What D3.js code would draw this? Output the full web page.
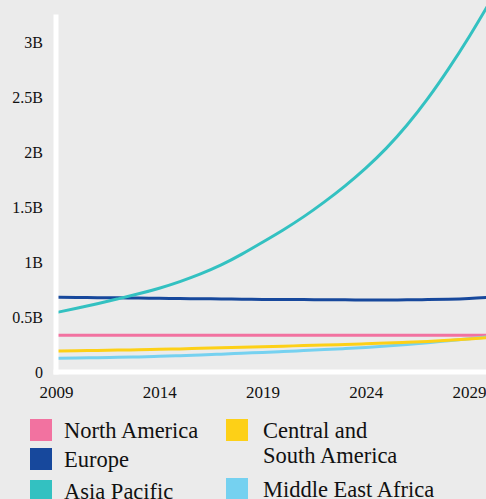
<!DOCTYPE html>
<html>
<head>
<meta charset="utf-8">
<script src="https://cdn.jsdelivr.net/npm/d3@7"></script>
<style>
  html, body { margin: 0; padding: 0; background: #ebebeb; overflow: hidden; }
  svg { display: block; }
  text { font-family: 'Liberation Serif', 'Times New Roman', Times, Tinos !important; }
</style>
</head>
<body>
<div id="chart"></div>
<script>
// Years on the x axis (one point per year).
var years = [2009, 2010, 2011, 2012, 2013, 2014, 2015, 2016, 2017, 2018, 2019,
             2020, 2021, 2022, 2023, 2024, 2025, 2026, 2027, 2028, 2029, 2030];

// Values in billions.
var northAmerica     = [0.335, 0.335, 0.335, 0.335, 0.335, 0.335, 0.335, 0.335, 0.335, 0.335, 0.335,
                        0.335, 0.335, 0.335, 0.335, 0.335, 0.335, 0.335, 0.335, 0.335, 0.335, 0.335];
var europe           = [0.68, 0.678, 0.676, 0.674, 0.672, 0.67, 0.668, 0.666, 0.664, 0.662, 0.66,
                        0.659, 0.658, 0.657, 0.656, 0.655, 0.655, 0.656, 0.658, 0.662, 0.668, 0.68];
var asiaPacific      = [0.54, 0.58, 0.62, 0.665, 0.71, 0.76, 0.82, 0.89, 0.97, 1.07, 1.18,
                        1.29, 1.41, 1.545, 1.69, 1.85, 2.03, 2.24, 2.48, 2.75, 3.04, 3.36];
var centralSouth     = [0.19, 0.193, 0.196, 0.199, 0.202, 0.206, 0.21, 0.215, 0.22, 0.225, 0.23,
                        0.235, 0.24, 0.245, 0.25, 0.256, 0.263, 0.27, 0.278, 0.288, 0.3, 0.315];
var middleEastAfrica = [0.125, 0.127, 0.13, 0.133, 0.137, 0.142, 0.148, 0.155, 0.162, 0.17, 0.178,
                        0.186, 0.195, 0.204, 0.213, 0.223, 0.236, 0.25, 0.266, 0.285, 0.303, 0.32];

var seriesValues = [northAmerica, europe, asiaPacific, centralSouth, middleEastAfrica];
var seriesColors = ["#f272a0", "#17489c", "#33c1c1", "#fdd017", "#75d1f0"];

var xTicks = [2009, 2014, 2019, 2024, 2029];
var yTicks = [0, 0.5, 1, 1.5, 2, 2.5, 3];
var yTickLabels = ["0", "0.5B", "1B", "1.5B", "2B", "2.5B", "3B"];

var width = 486, height = 499;

var svg = d3.select("#chart").append("svg").attr("width", width).attr("height", height);
svg.append("rect").attr("width", width).attr("height", height).attr("fill", "#ebebeb");

var x = d3.scaleLinear().domain([2009, 2029]).range([56, 469]);
var y = d3.scaleLinear().domain([0, 3.25]).range([372, 14.5]);

// Lines (light blue under yellow, like in the picture).
var drawOrder = [0, 1, 2, 4, 3];
var line = d3.line().curve(d3.curveBasis);

drawOrder.forEach(function(i) {
  svg.append("path")
     .datum(years.map(function(yr, k) { return [x(yr), y(seriesValues[i][k])]; }))
     .attr("d", line)
     .attr("fill", "none")
     .attr("stroke", seriesColors[i])
     .attr("stroke-width", 3);
});

// Axes: thick white lines, no tick marks.
var yAxis = svg.append("g")
               .attr("transform", "translate(" + x(2009) + ",0)")
               .call(d3.axisLeft(y).tickValues(yTicks).tickSize(0).tickPadding(13)
                       .tickFormat(function(d, i) { return yTickLabels[i]; }));
yAxis.attr("font-family", "Liberation Serif");
yAxis.select(".domain")
     .attr("stroke", "#ffffff")
     .attr("stroke-width", 5)
     .attr("d", "M0," + (y(0) + 2.5) + "V" + y.range()[1]);
yAxis.selectAll("text")
     .attr("font-family", "Liberation Serif")
     .style("font-size", "16px")
     .attr("fill", "#111111")
     .attr("dy", "0.34em");

var xAxis = svg.append("g")
               .attr("transform", "translate(0," + y(0) + ")")
               .call(d3.axisBottom(x).tickValues(xTicks).tickSize(0).tickPadding(14)
                       .tickFormat(d3.format("d")));
xAxis.attr("font-family", "Liberation Serif");
xAxis.select(".domain")
     .attr("stroke", "#ffffff")
     .attr("stroke-width", 5)
     .attr("d", "M" + (x(2009) - 2.5) + ",0H" + width);
xAxis.selectAll("text")
     .attr("font-family", "Liberation Serif")
     .style("font-size", "17px")
     .attr("fill", "#111111")
     .attr("dy", "0.71em");

// Legend in two columns; swatches and texts straight on the svg.
var legendItems = [
  {i: 0, x: 30,  y: 419, tx: 64,  lines: ["North America"]},
  {i: 1, x: 30,  y: 448, tx: 64,  lines: ["Europe"]},
  {i: 2, x: 30,  y: 480, tx: 64,  lines: ["Asia Pacific"]},
  {i: 3, x: 226, y: 419, tx: 263, lines: ["Central and", "South America"]},
  {i: 4, x: 226, y: 478, tx: 263, lines: ["Middle East Africa"]}
];

legendItems.forEach(function(item) {
  svg.append("rect")
     .attr("x", item.x)
     .attr("y", item.y)
     .attr("width", 22)
     .attr("height", 22)
     .attr("fill", seriesColors[item.i]);
  item.lines.forEach(function(t, k) {
    svg.append("text")
       .attr("x", item.tx)
       .attr("y", item.y + 19 + k * 25)
       .text(t)
       .attr("font-family", "Liberation Serif")
       .style("font-size", "22.5px")
       .attr("fill", "#111111");
  });
});
</script>
</body>
</html>
